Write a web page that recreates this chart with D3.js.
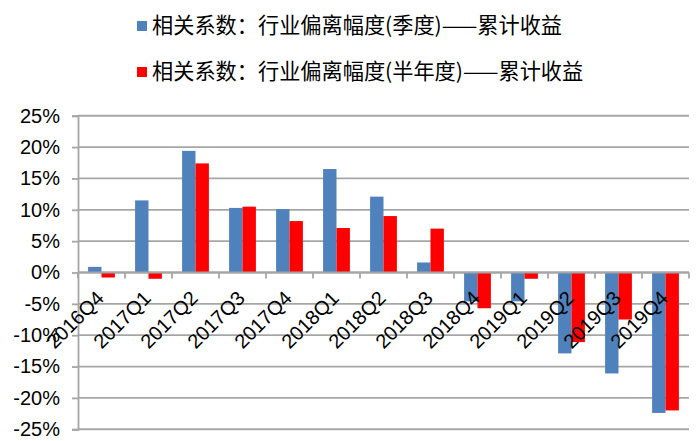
<!DOCTYPE html>
<html><head><meta charset="utf-8">
<script src="https://cdn.jsdelivr.net/npm/d3@7/dist/d3.min.js"></script>
<style>html,body{margin:0;padding:0;background:#fff;}</style>
</head><body>
<svg id="c" width="699" height="441"></svg>
<script>
const categories = ["2016Q4","2017Q1","2017Q2","2017Q3","2017Q4","2018Q1","2018Q2","2018Q3","2018Q4","2019Q1","2019Q2","2019Q3","2019Q4"];
const quarterly = [0.9, 11.5, 19.4, 10.3, 10.1, 16.5, 12.1, 1.6, -4.6, -4.6, -12.9, -16.1, -22.4];
const halfYear = [-0.8, -1.0, 17.4, 10.5, 8.2, 7.1, 9.0, 7.0, -5.7, -1.0, -11.1, -7.5, -22.0];
const seriesNames = ["相关系数：行业偏离幅度(季度)——累计收益", "相关系数：行业偏离幅度(半年度)——累计收益"];
const yTicks = [25, 20, 15, 10, 5, 0, -5, -10, -15, -20, -25];
const colors = ["#4F81BD", "#FF0000"];

(function () {
const svg = d3.select("#c");
const pLeft = 78, pRight = 689, pTop = 115.75, pBottom = 429.25;
const y = d3.scaleLinear().domain([-25, 25]).range([pBottom, pTop]);
const x = d3.scaleBand().domain(categories).range([pLeft, pRight]).paddingInner(0.43).paddingOuter(0.215);
const xs = d3.scaleBand().domain([0, 1]).range([0, x.bandwidth()]);
const step = x.step();

// gridlines
svg.append("g").selectAll("line").data(yTicks).join("line")
  .attr("x1", pLeft).attr("x2", pRight)
  .attr("y1", d => y(d)).attr("y2", d => y(d))
  .attr("stroke", "#A6A6A6").attr("stroke-width", 1.8);

// y axis
const yAxis = d3.axisLeft(y).tickValues(yTicks).tickSize(6).tickPadding(12).tickFormat(d => d + "%");
const gy = svg.append("g").attr("transform", `translate(${pLeft},0)`).call(yAxis);
gy.select(".domain").attr("stroke", "#A6A6A6").attr("stroke-width", 1.8);
gy.selectAll(".tick line").attr("stroke", "#A6A6A6").attr("stroke-width", 1.8);
gy.selectAll(".tick text").attr("font-family", "Liberation Sans, Arial, sans-serif").attr("font-size", 20).attr("fill", "#000");

// bars
const series = [quarterly, halfYear];
series.forEach((vals, si) => {
  svg.append("g").selectAll("rect").data(vals).join("rect")
    .attr("x", (d, i) => x(categories[i]) + xs(si))
    .attr("width", xs.bandwidth())
    .attr("y", d => y(Math.max(0, d)))
    .attr("height", d => Math.abs(y(d) - y(0)))
    .attr("fill", colors[si]);
});

// category axis at zero
const boundaries = d3.range(categories.length + 1).map(i => pLeft + i * step);
svg.append("line").attr("x1", pLeft).attr("x2", pRight).attr("y1", y(0)).attr("y2", y(0))
  .attr("stroke", "#A6A6A6").attr("stroke-width", 1.8);
svg.append("g").selectAll("line").data(boundaries).join("line")
  .attr("x1", d => d).attr("x2", d => d).attr("y1", y(0)).attr("y2", y(0) + 6)
  .attr("stroke", "#A6A6A6").attr("stroke-width", 1.8);

svg.append("g").selectAll("text").data(categories).join("text")
  .attr("transform", d => `translate(${x(d) + x.bandwidth() / 2 + 3.5},${y(0) + 27}) rotate(-45)`)
  .attr("text-anchor", "end")
  .attr("font-family", "Liberation Sans, Arial, sans-serif").attr("font-size", 20).attr("fill", "#000")
  .text(d => d);

// legend
const lg = svg.append("g");
seriesNames.forEach((name, i) => {
  const ly = 26 + i * 46;
  lg.append("rect").attr("x", 137).attr("y", ly - 5).attr("width", 10).attr("height", 10).attr("fill", colors[i]);
  lg.append("text").attr("x", 152).attr("y", ly).attr("dy", "0.35em")
    .attr("font-family", "Noto Sans CJK SC, sans-serif").attr("font-size", 21.2).attr("fill", "#000")
    .text(name);
});
})();
</script>
</body></html>
